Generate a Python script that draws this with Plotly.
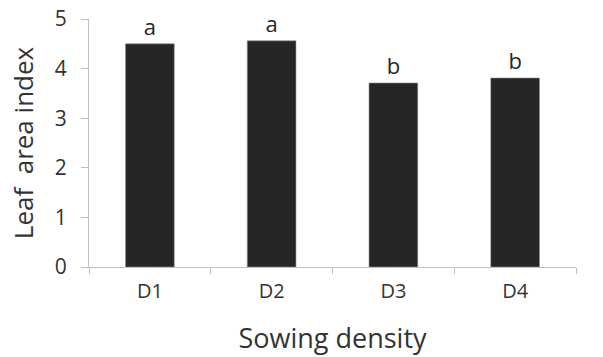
import plotly.graph_objects as go

categories = ["D1", "D2", "D3", "D4"]
lai_values = [4.50, 4.56, 3.71, 3.81]
group_letters = ["a", "a", "b", "b"]
y_tick_values = [0, 1, 2, 3, 4, 5]

fig = go.Figure()
fig.add_trace(go.Bar(
    x=categories,
    y=lai_values,
    text=group_letters,
    textposition="outside",
    cliponaxis=False,
    textfont=dict(size=22, color="#262626", family="Open Sans"),
    marker=dict(color="#262626", line=dict(color="#8c8c8c", width=0.6)),
    width=0.4,
))

fig.update_layout(
    width=603, height=357,
    margin=dict(l=89, r=27, t=19, b=90, pad=0, autoexpand=False),
    paper_bgcolor="white", plot_bgcolor="white",
    font=dict(family="Open Sans", color="#333333"),
    showlegend=False,
)
fig.update_xaxes(
    automargin=True,
    showline=True, linecolor="#bfbfbf", linewidth=1,
    ticks="outside", tickson="boundaries", ticklen=6, tickcolor="#bfbfbf",
    tickfont=dict(size=20, color="#333333"),
    ticklabelstandoff=6,
    title=dict(text="Sowing density", font=dict(size=27, color="#333333"), standoff=26),
    showgrid=False,
)
fig.update_yaxes(
    automargin=True,
    range=[0, 5], tickvals=y_tick_values,
    showline=True, linecolor="#bfbfbf", linewidth=1,
    ticks="outside", ticklen=7, tickcolor="#bfbfbf",
    tickfont=dict(size=21, color="#333333"),
    ticklabelstandoff=10,
    ticklabeloverflow="allow",
    title=dict(text="Leaf  area index", font=dict(size=26, color="#333333"), standoff=13),
    showgrid=False, zeroline=False,
)

fig.write_html("out.html", config={"displayModeBar": False},
               post_script="document.body.style.margin='0';")
